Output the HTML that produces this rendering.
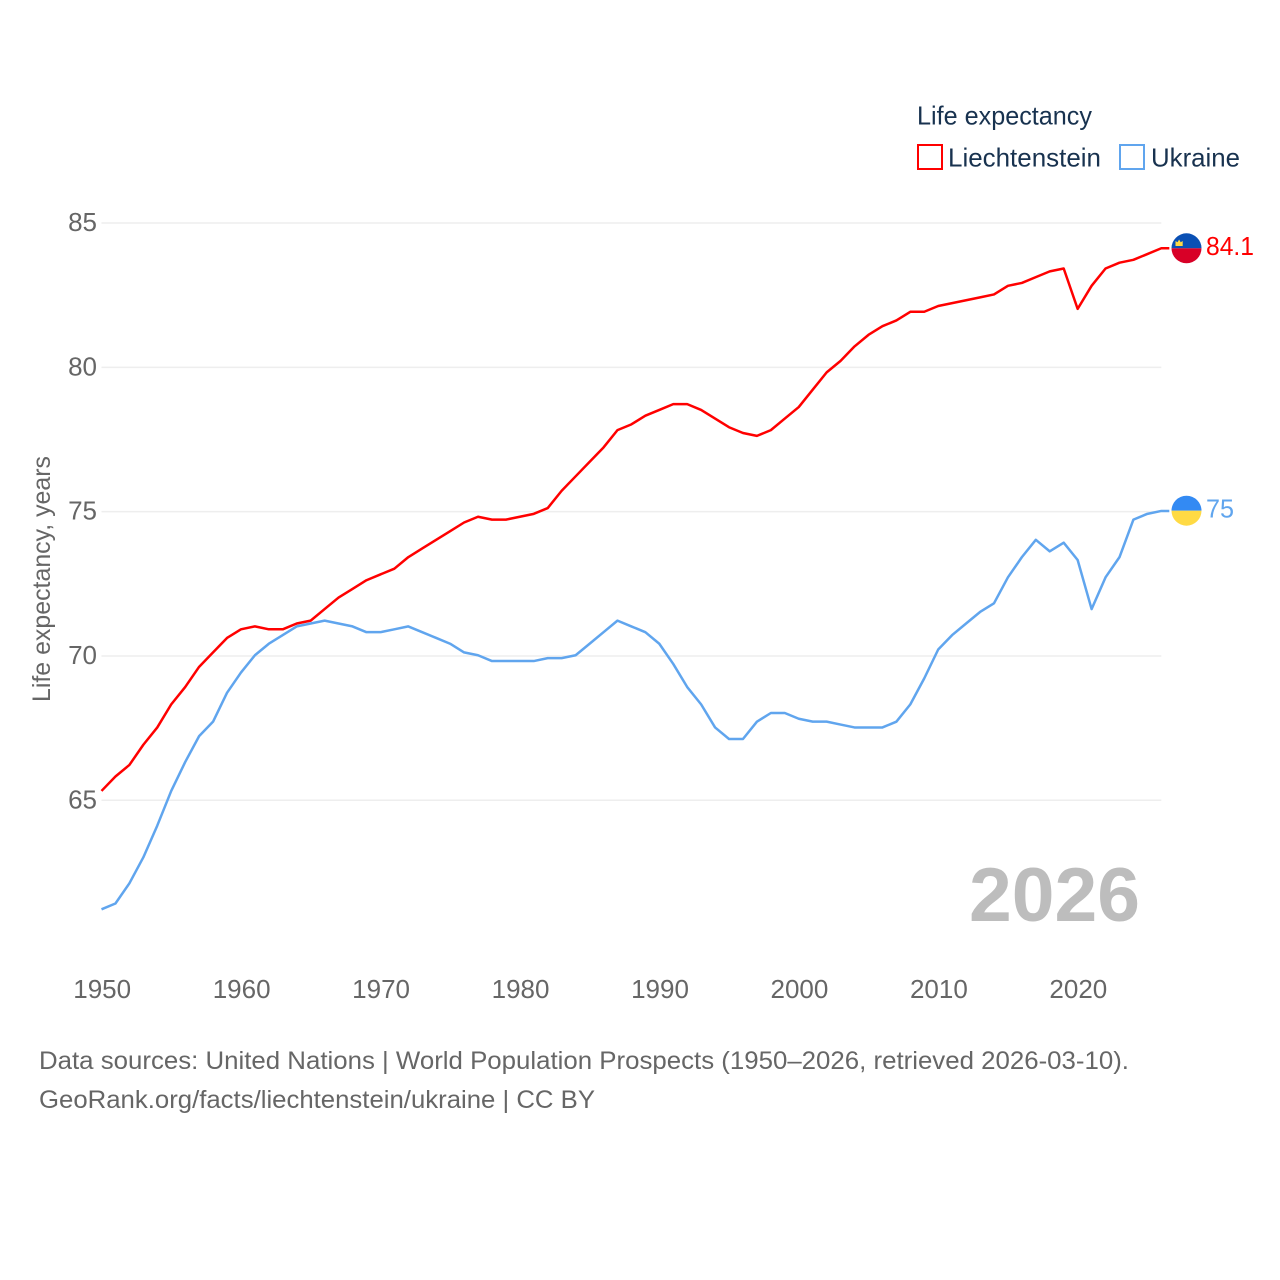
<!DOCTYPE html>
<html lang="en">
<head>
<meta charset="utf-8">
<title>Life expectancy: Liechtenstein and Ukraine</title>
<style>
  html, body { margin: 0; padding: 0; background: #fff; }
  svg { display: block; font-family: "Liberation Sans", sans-serif; }
</style>
</head>
<body>
<svg id="chart" xmlns="http://www.w3.org/2000/svg" width="1280" height="1280" viewBox="0 0 1280 1280">
  <rect x="0" y="0" width="1280" height="1280" fill="#ffffff"/>
  <g id="grid"></g>
  <g id="y-ticks"></g>
  <g id="x-ticks"></g>
  <text transform="translate(50,702) rotate(-90)" font-size="25" fill="#666666" textLength="246" lengthAdjust="spacingAndGlyphs">Life expectancy, years</text>
  <text x="969" y="921" font-size="76" font-weight="700" fill="#bdbdbd" textLength="171" lengthAdjust="spacingAndGlyphs">2026</text>
  <g id="series"></g>
  <g>
    <text x="917" y="124.5" font-size="26" fill="#18324f" textLength="175" lengthAdjust="spacingAndGlyphs">Life expectancy</text>
    <g>
      <rect x="918" y="145" width="24" height="24" fill="#ffffff" stroke="#ff0000" stroke-width="2"/>
      <text x="948" y="166.5" font-size="26" fill="#18324f" textLength="153" lengthAdjust="spacingAndGlyphs">Liechtenstein</text>
    </g>
    <g>
      <rect x="1120" y="145" width="24" height="24" fill="#ffffff" stroke="#60a5ee" stroke-width="2"/>
      <text x="1151" y="166.5" font-size="26" fill="#18324f" textLength="89" lengthAdjust="spacingAndGlyphs">Ukraine</text>
    </g>
  </g>
  <g>
    <text x="39" y="1069" font-size="25" fill="#666666" textLength="1090" lengthAdjust="spacingAndGlyphs">Data sources: United Nations | World Population Prospects (1950–2026, retrieved 2026-03-10).</text>
    <text x="39" y="1108" font-size="25" fill="#666666" textLength="556" lengthAdjust="spacingAndGlyphs">GeoRank.org/facts/liechtenstein/ukraine | CC BY</text>
  </g>
  <defs>
    <clipPath id="li-clip"><circle cx="1186.5" cy="248.3" r="15"/></clipPath>
    <clipPath id="ua-clip"><circle cx="1186.5" cy="510.7" r="15"/></clipPath>
  </defs>
  <g id="flag-li" clip-path="url(#li-clip)">
    <rect x="1170" y="232" width="33" height="16.3" fill="#0a50b4"/>
    <rect x="1170" y="248.3" width="33" height="17" fill="#d80027"/>
    <path d="M1175.5 246v-5l2 1.2 1.6-2.7 1.6 2.7 2-1.2v5z" fill="#ffda44"/>
  </g>
  <g id="flag-ua" clip-path="url(#ua-clip)">
    <rect x="1170" y="495" width="33" height="15.7" fill="#338af3"/>
    <rect x="1170" y="510.7" width="33" height="16" fill="#ffda44"/>
  </g>
</svg>
<script>
const years = [1950,1951,1952,1953,1954,1955,1956,1957,1958,1959,1960,1961,1962,1963,1964,1965,1966,1967,1968,1969,1970,1971,1972,1973,1974,1975,1976,1977,1978,1979,1980,1981,1982,1983,1984,1985,1986,1987,1988,1989,1990,1991,1992,1993,1994,1995,1996,1997,1998,1999,2000,2001,2002,2003,2004,2005,2006,2007,2008,2009,2010,2011,2012,2013,2014,2015,2016,2017,2018,2019,2020,2021,2022,2023,2024,2025,2026];
const liechtenstein = [65.3,65.8,66.2,66.9,67.5,68.3,68.9,69.6,70.1,70.6,70.9,71.0,70.9,70.9,71.1,71.2,71.6,72.0,72.3,72.6,72.8,73.0,73.4,73.7,74.0,74.3,74.6,74.8,74.7,74.7,74.8,74.9,75.1,75.7,76.2,76.7,77.2,77.8,78.0,78.3,78.5,78.7,78.7,78.5,78.2,77.9,77.7,77.6,77.8,78.2,78.6,79.2,79.8,80.2,80.7,81.1,81.4,81.6,81.9,81.9,82.1,82.2,82.3,82.4,82.5,82.8,82.9,83.1,83.3,83.4,82.0,82.8,83.4,83.6,83.7,83.9,84.1];
const ukraine = [61.2,61.4,62.1,63.0,64.1,65.3,66.3,67.2,67.7,68.7,69.4,70.0,70.4,70.7,71.0,71.1,71.2,71.1,71.0,70.8,70.8,70.9,71.0,70.8,70.6,70.4,70.1,70.0,69.8,69.8,69.8,69.8,69.9,69.9,70.0,70.4,70.8,71.2,71.0,70.8,70.4,69.7,68.9,68.3,67.5,67.1,67.1,67.7,68.0,68.0,67.8,67.7,67.7,67.6,67.5,67.5,67.5,67.7,68.3,69.2,70.2,70.7,71.1,71.5,71.8,72.7,73.4,74.0,73.6,73.9,73.3,71.6,72.7,73.4,74.7,74.9,75.0];
const yTickValues = [65,70,75,80,85];
const xTickValues = [1950,1960,1970,1980,1990,2000,2010,2020];

const NS = 'http://www.w3.org/2000/svg';
function xScale(year) { return 101.5 + (year - 1950) * 13.945; }
function yScale(value) { return 800.3 - (value - 65) * 28.865; }
function make(tag, attrs, parent) {
  const el = document.createElementNS(NS, tag);
  for (const k in attrs) el.setAttribute(k, attrs[k]);
  parent.appendChild(el);
  return el;
}

const gridGroup = document.getElementById('grid');
const yGroup = document.getElementById('y-ticks');
yTickValues.forEach(function (v) {
  const line = make('line', { x1: xScale(1950), x2: xScale(2026), y1: yScale(v), y2: yScale(v), stroke: '#eeeeee', 'stroke-width': 1.5 }, gridGroup);
  
  
  const label = make('text', { x: 97, y: yScale(v) + 8, 'text-anchor': 'end', 'font-size': 26, fill: '#666666' }, yGroup);
  label.textContent = String(v);
  
  
});

const xGroup = document.getElementById('x-ticks');
xTickValues.forEach(function (t) {
  const label = make('text', { x: xScale(t) + 0.7, y: 998, 'text-anchor': 'middle', 'font-size': 26, fill: '#666666' }, xGroup);
  label.textContent = String(t);
  
  
});

function drawSeries(name, values, color, labelWidth) {
  const group = document.getElementById('series');
  const pts = values.map(function (v, i) { return xScale(years[i]).toFixed(2) + ',' + (yScale(v) - 0.7).toFixed(2); });
  const lastValue = values[values.length - 1];
  const lastX = xScale(years[years.length - 1]);
  const lastY = yScale(lastValue);
  pts.push((lastX + 8).toFixed(2) + ',' + (lastY - 0.7).toFixed(2));
  const line = make('polyline', { points: pts.join(' '), fill: 'none', stroke: color, 'stroke-width': 2.5, 'stroke-linejoin': 'round' }, group);
  
  
  const label = make('text', { x: 1206, y: lastY + 6, 'font-size': 26, fill: color, textLength: labelWidth, lengthAdjust: 'spacingAndGlyphs' }, group);
  label.textContent = String(lastValue);
  
  
}
drawSeries('liechtenstein', liechtenstein, '#ff0000', 48);
drawSeries('ukraine', ukraine, '#60a5ee', 28);
</script>
</body>
</html>
